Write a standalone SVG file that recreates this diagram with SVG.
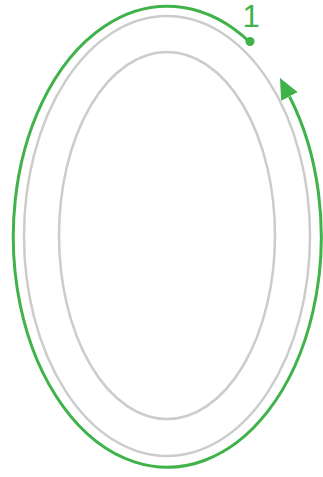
<svg xmlns="http://www.w3.org/2000/svg" width="323" height="477" viewBox="0 0 323 477">
<style>
.track{fill:none;stroke:#cccccc;stroke-width:2.5}
.path{fill:none;stroke:#3fb34a;stroke-width:3}
.lbl{font-family:"Liberation Sans",Arial,sans-serif;font-size:31px;fill:#3fb34a;text-anchor:middle}
</style>
<defs>
<marker id="ah" markerUnits="userSpaceOnUse" markerWidth="22" markerHeight="20" viewBox="0 -9 20 18" refX="0" refY="0" orient="auto">
<path d="M0,-8.5 L19,0 L0,8.5 z" fill="#3fb34a"/>
</marker>
</defs>
<g id="outer-track"><ellipse class="track" cx="167" cy="236" rx="143" ry="220"/></g>
<g id="inner-track"><ellipse class="track" cx="167" cy="235.5" rx="108" ry="183.5"/></g>
<g id="connectors">
<path class="path" d="M250,42.3 A154,230.5 0 1 0 289.5,96.5" marker-end="url(#ah)"/>
</g>
<g id="start">
<circle cx="250" cy="41.5" r="4.5" fill="#3fb34a"/>
<text class="lbl" x="251" y="27">1</text>
</g>
</svg>
